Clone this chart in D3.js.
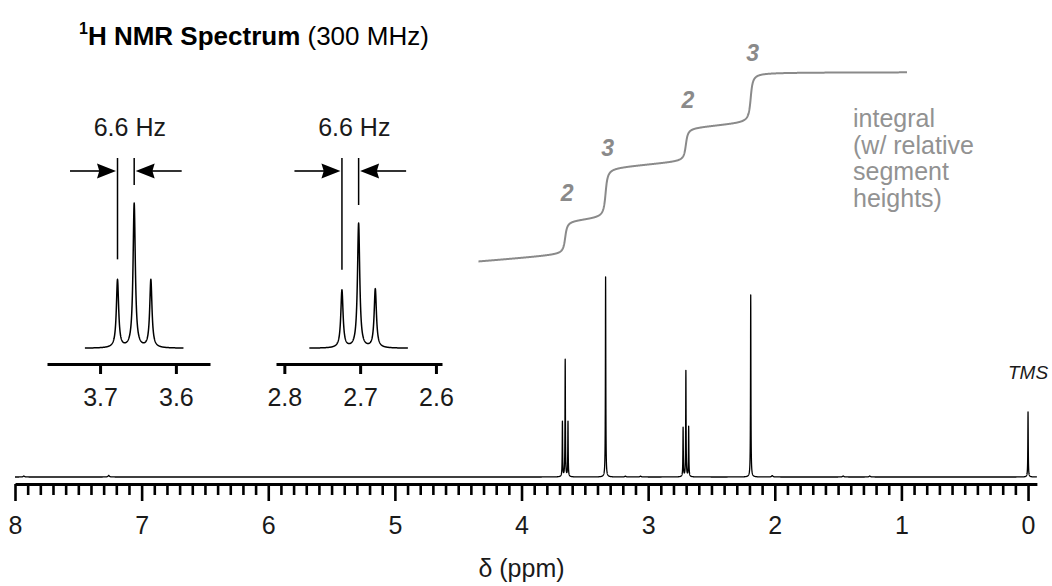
<!DOCTYPE html>
<html>
<head>
<meta charset="utf-8">
<script src="https://cdn.jsdelivr.net/npm/d3@7"></script>
<style>
  html, body { margin: 0; padding: 0; background: #fff; }
  svg { display: block; font-family: "Liberation Sans", Arial, Helvetica, sans-serif; }
</style>
</head>
<body>
<svg id="chart" width="1052" height="586"></svg>
<script>
// ---- Spectrum data: 4-methoxybutan-2-one in CDCl3, 300 MHz ----
// resolved lines (chemical shift in ppm, relative height, singlet at 3.34 = 100)
const lineShift  = [3.677, 3.655, 3.633, 3.336, 2.724, 2.702, 2.680, 2.190, 0.000];
const lineHeight = [27.5, 58.5, 27.5, 100, 24.5, 53, 25, 91, 32.5];
// trace signals on the baseline
const traceShift  = [7.93, 7.26, 3.18, 3.06, 2.02, 1.46, 1.25];
const traceHeight = [0.5, 0.8, 0.4, 0.4, 0.7, 0.5, 0.5];

// integral: group centres, relative proton counts, integrated range (ppm)
const integralCentre = [3.655, 3.336, 2.702, 2.190];
const integralCount  = [2, 3, 2, 3];
const integralSpan   = [4.34, 0.955];

// axis tick labels
const majorTicks  = [8, 7, 6, 5, 4, 3, 2, 1, 0];
const inset1Ticks = [3.7, 3.6];
const inset2Ticks = [2.8, 2.7, 2.6];

// coupling constant shown on the insets
const couplingHz = 6.6;
const fieldMHz = 300;

// ---- line shape helpers ----
const lineHwhm = 0.0018;   // ppm
const traceHwhm = 0.006;   // ppm
function lorentz(p, c, h, g) { const d = p - c; return h * g * g / (g * g + d * d); }
function intensity(p) {
  let v = 0;
  for (let i = 0; i < lineShift.length; i++) v += lorentz(p, lineShift[i], lineHeight[i], lineHwhm);
  for (let i = 0; i < traceShift.length; i++) v += lorentz(p, traceShift[i], traceHeight[i], traceHwhm);
  return v;
}
function sample(from, to, step) {
  const pts = [];
  for (let p = from; p >= to; p -= step) pts.push(p);
  lineShift.concat(traceShift).forEach(c => { if (c <= from && c >= to) pts.push(c); });
  pts.sort((a, b) => b - a);
  return pts.map(p => [p, intensity(p)]);
}

// running integral: smooth steps sized by proton count plus slow drift
const stepWidth = 0.012;
const driftPerPpm = 0.58;
function integralAt(p) {
  let v = 0;
  integralCentre.forEach((c, i) => {
    v += integralCount[i] * (0.5 + Math.atan((c - p) / stepWidth) / Math.PI);
  });
  v += driftPerPpm * (integralSpan[0] - Math.max(p, integralCentre[integralCentre.length - 1]));
  return v;
}

const svg = d3.select("#chart");

// ---- main spectrum ----
const x = d3.scaleLinear().domain([8, -0.07]).range([15, 1036.9]);
const y = d3.scaleLinear().domain([0, 100]).range([477, 277]);
const spectrumLine = d3.line().x(d => x(d[0])).y(d => y(d[1]));

svg.append("path")
  .datum(sample(8, -0.07, 0.0005))
  .attr("d", spectrumLine)
  .attr("fill", "none").attr("stroke", "#000").attr("stroke-width", 1.3)
  .attr("stroke-linejoin", "round");

// main axis: minor ticks every 0.1 ppm, major ticks every 1 ppm
const axisY = 484;
const minorAxis = d3.axisBottom(x)
  .tickValues(d3.range(1, 80).filter(i => i % 10 !== 0).map(i => i / 10))
  .tickSize(11).tickSizeOuter(0).tickFormat("");
const majorAxis = d3.axisBottom(x).tickValues(majorTicks).tickSize(17).tickSizeOuter(0)
  .tickPadding(15).tickFormat(d3.format("d"));

const gMinor = svg.append("g").attr("transform", `translate(0,${axisY})`).call(minorAxis);
gMinor.select(".domain").remove();
gMinor.selectAll(".tick line").attr("stroke", "#000").attr("stroke-width", 2.6);

const gMajor = svg.append("g").attr("transform", `translate(0,${axisY})`).call(majorAxis);
gMajor.select(".domain").attr("stroke", "#000").attr("stroke-width", 3.2);
gMajor.selectAll(".tick line").attr("stroke", "#000").attr("stroke-width", 2.6);
gMajor.selectAll(".tick text").attr("font-size", 25).attr("fill", "#1a1a1a")
  .attr("font-family", "Liberation Sans, Arial, sans-serif");

svg.append("text").attr("x", (x(8) + x(0)) / 2).attr("y", 577)
  .attr("text-anchor", "middle").attr("font-size", 25).attr("fill", "#1a1a1a")
  .text("δ (ppm)");

// TMS reference label
svg.append("text").attr("x", x(0)).attr("y", 379)
  .attr("text-anchor", "middle").attr("font-size", 19).attr("font-style", "italic")
  .attr("fill", "#1a1a1a").text("TMS");

// ---- title ----
const title = svg.append("text").attr("x", 79).attr("y", 45).attr("font-size", 26).attr("fill", "#000");
title.append("tspan").attr("font-size", 16).attr("font-weight", "bold").attr("dy", -11).text("1");
title.append("tspan").attr("font-weight", "bold").attr("dy", 11).text("H NMR Spectrum");
title.append("tspan").text(" (300 MHz)");

// ---- integral trace ----
const yInt = d3.scaleLinear().domain([0, 10 + driftPerPpm * (integralSpan[0] - 2.19)]).range([262, 72]);
const intPts = d3.range(integralSpan[0], integralSpan[1], -0.002).map(p => [p, integralAt(p)]);
svg.append("path")
  .datum(intPts)
  .attr("d", d3.line().x(d => x(d[0])).y(d => yInt(d[1])))
  .attr("fill", "none").attr("stroke", "#8a8a8a").attr("stroke-width", 2)
  .attr("stroke-linejoin", "round");

svg.selectAll("text.int-count")
  .data(integralCentre.map((c, i) => ({ c, n: integralCount[i] })))
  .join("text").attr("class", "int-count")
  .attr("x", d => x(d.c) + 2)
  .attr("y", d => yInt(integralAt(d.c)) - 45 + 8)
  .attr("text-anchor", "middle").attr("font-size", 23)
  .attr("font-weight", "bold").attr("font-style", "italic").attr("fill", "#8a8a8a")
  .text(d => d.n);

const note = ["integral", "(w/ relative", "segment", "heights)"];
svg.selectAll("text.int-note").data(note).join("text").attr("class", "int-note")
  .attr("x", 853).attr("y", (d, i) => 127 + i * 26.7)
  .attr("font-size", 25).attr("fill", "#929292").text(d => d);

// ---- expanded triplet insets ----
const jPpm = couplingHz / fieldMHz;
const insets = [
  { centre: 3.655, domain: [3.77, 3.555], range: [47, 210], top: 203, ticks: inset1Ticks },
  { centre: 2.702, domain: [2.811, 2.592], range: [276, 442], top: 223, ticks: inset2Ticks }
];
const insetBase = 348.3, insetAxisY = 364;

insets.forEach(ins => {
  const xi = d3.scaleLinear().domain(ins.domain).range(ins.range);
  const pts = sample(ins.centre + 0.065, ins.centre - 0.065, 0.0002);
  const yi = d3.scaleLinear().domain([0, d3.max(pts, d => d[1])]).range([insetBase, ins.top]);
  const g = svg.append("g");

  g.append("path").datum(pts)
    .attr("d", d3.line().x(d => xi(d[0])).y(d => yi(d[1])))
    .attr("fill", "none").attr("stroke", "#000").attr("stroke-width", 1.5)
    .attr("stroke-linejoin", "round");

  const ax = d3.axisBottom(xi).tickValues(ins.ticks).tickSize(10).tickSizeOuter(0)
    .tickPadding(14).tickFormat(d3.format(".1f"));
  const ga = g.append("g").attr("transform", `translate(0,${insetAxisY})`).call(ax);
  ga.select(".domain").attr("stroke", "#000").attr("stroke-width", 3.2);
  ga.selectAll(".tick line").attr("stroke", "#000").attr("stroke-width", 3);
  ga.selectAll(".tick text").attr("font-size", 25).attr("fill", "#1a1a1a")
    .attr("font-family", "Liberation Sans, Arial, sans-serif");

  // coupling markers over the outer and central lines
  const xl = xi(ins.centre + jPpm), xc = xi(ins.centre);
  const peakTop = p => yi(intensity(p));
  g.append("line").attr("x1", xl).attr("x2", xl).attr("y1", 158).attr("y2", peakTop(ins.centre + jPpm) - 20)
    .attr("stroke", "#000").attr("stroke-width", 1.5);
  g.append("line").attr("x1", xc).attr("x2", xc).attr("y1", 158).attr("y2", peakTop(ins.centre) - 18)
    .attr("stroke", "#000").attr("stroke-width", 1.5);

  const ay = 171, len = 46, head = 19, hw = 7.5;
  [[xl - 1.5, -1], [xc + 1.5, 1]].forEach(([tip, dir]) => {
    g.append("line").attr("x1", tip + dir * len).attr("x2", tip + dir * head * 0.8)
      .attr("y1", ay).attr("y2", ay).attr("stroke", "#000").attr("stroke-width", 1.6);
    g.append("path")
      .attr("d", `M${tip},${ay}L${tip + dir * head},${ay - hw}L${tip + dir * head * 0.88},${ay}L${tip + dir * head},${ay + hw}Z`)
      .attr("fill", "#000");
  });

  g.append("text").attr("x", (xl + xc) / 2 + 4).attr("y", 136)
    .attr("text-anchor", "middle").attr("font-size", 25).attr("fill", "#1a1a1a")
    .text(`${couplingHz} Hz`);
});
</script>
</body>
</html>
